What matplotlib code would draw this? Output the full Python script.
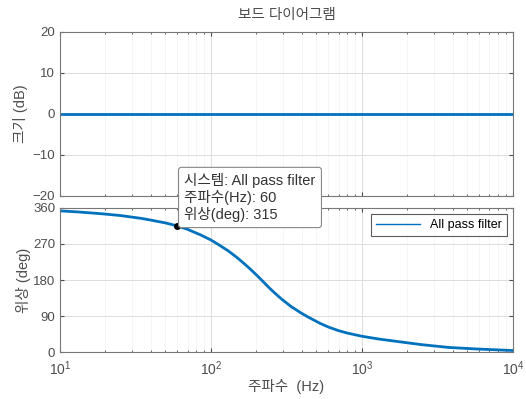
import matplotlib.pyplot as plt
import numpy as np

plt.rcParams['font.family'] = ['Liberation Sans', 'Noto Sans CJK KR', 'DejaVu Sans']

# phase response (Hz, deg)
freq = [10, 13, 16, 20, 25, 30, 35, 40, 50, 60, 70, 85, 100, 115, 130, 148,
        165, 181, 200, 220, 240, 260, 280, 300, 340, 390, 430, 480, 530, 600,
        700, 800, 1000, 1300, 1800, 2500, 3800, 6000, 10000]
phase = [352.5, 350, 347.5, 344.5, 341, 337, 333.5, 329.5, 322.5, 315, 306.5,
         293, 280, 266, 253, 237, 222, 208.5, 193, 177.5, 163, 150.5, 139.5,
         130, 114, 99.5, 90, 80.5, 72, 63, 54, 48, 40, 33, 26, 19, 12, 8, 4.5]
mag = [0.0] * len(freq)

tip_f = 60
tip_ph = 315

blue = '#0072BD'
gray = '#4d4d4d'

fig = plt.figure(figsize=(5.26, 3.99), dpi=100)
ax1 = fig.add_axes([0.114, 0.509, 0.861, 0.411])
ax2 = fig.add_axes([0.114, 0.117, 0.861, 0.362])

for ax in (ax1, ax2):
    ax.set_xscale('log')
    ax.set_xlim(10, 1e4)
    ax.grid(True, which='major', color='#dcdcdc', linewidth=0.7)
    ax.grid(True, which='minor', axis='x', color='#f2f2f2', linewidth=0.5)
    ax.tick_params(which='both', direction='in', top=True, right=True,
                   colors=gray, labelsize=9.5)
    ax.tick_params(which='major', length=3)
    ax.tick_params(which='minor', length=1.5)
    ax.tick_params(axis='x', pad=5, labelsize=10)
    for s in ax.spines.values():
        s.set_color('#777777')
        s.set_linewidth(0.8)
    ax.set_axisbelow(True)

ax1.semilogx(freq, mag, color=blue, linewidth=2)
ax1.set_ylim(-20, 20)
ax1.set_yticks([-20, -10, 0, 10, 20])
ax1.tick_params(axis='x', which='both', labelbottom=False)
ax1.set_ylabel('크기 (dB)', color=gray, fontsize=10.5, labelpad=3)
ax1.set_title('보드 다이어그램', color=gray, fontsize=10.5, pad=9)

ax2.semilogx(freq, phase, color=blue, linewidth=2, label='All pass filter')
ax2.set_ylim(0, 360)
ax2.set_yticks([0, 90, 180, 270, 360])
ax2.set_xticks([10, 100, 1000, 10000])
ax2.set_ylabel('위상 (deg)', color=gray, fontsize=10.5, labelpad=1)
ax2.set_xlabel('주파수  (Hz)', color=gray, fontsize=10.5, labelpad=1)
leg = ax2.legend(loc='upper right', fontsize=9, fancybox=False,
                 edgecolor='#333333', handlelength=3.5, borderpad=0.4)
leg.get_frame().set_linewidth(0.8)
for ln in leg.get_lines():
    ln.set_linewidth(1)

ax2.plot([tip_f], [tip_ph], 'o', color='black', markersize=4, zorder=5)
ax2.annotate('시스템: All pass filter\n주파수(Hz): %d\n위상(deg): %d' % (tip_f, tip_ph),
             xy=(tip_f, tip_ph), xytext=(5, 3), textcoords='offset points',
             ha='left', va='bottom', fontsize=10.5, color='#333333',
             linespacing=1.15, annotation_clip=False, zorder=10,
             bbox=dict(boxstyle='round,pad=0.4,rounding_size=0.2',
                       facecolor='white', edgecolor='#888888', linewidth=0.8))

fig.savefig('out.png', dpi=100)
